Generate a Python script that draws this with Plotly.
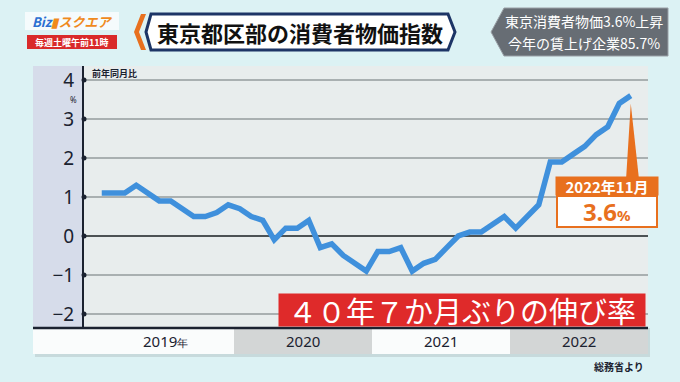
import plotly.graph_objects as go

# ---------------- data ----------------
years = [2019, 2020, 2021, 2022]
year_labels = ["2019<span style='font-size:11px'>年</span>", "2020", "2021", "2022"]
cpi_2019 = [1.1, 1.1, 1.1, 1.3, 1.1, 0.9, 0.9, 0.7, 0.5, 0.5, 0.6, 0.8]
cpi_2020 = [0.7, 0.5, 0.4, -0.1, 0.2, 0.2, 0.4, -0.3, -0.2, -0.5, -0.7, -0.9]
cpi_2021 = [-0.4, -0.4, -0.3, -0.9, -0.7, -0.6, -0.3, 0.0, 0.1, 0.1, 0.3, 0.5]
cpi_2022 = [0.2, 0.5, 0.8, 1.9, 1.9, 2.1, 2.3, 2.6, 2.8, 3.4, 3.6]
y_ticks = [-2, -1, 0, 1, 2, 3, 4]
y_tick_text = ["−2", "−1", "0", "1", "2", "3", "4"]
callout_label = "2022年11月"
callout_value = "3.6"

values = cpi_2019 + cpi_2020 + cpi_2021 + cpi_2022
months = [i + 0.5 for i in range(len(values))]  # month centres, 0 = start of Jan 2019

# ---------------- layout geometry ----------------
W, H = 680, 382
L, R, T, B = 84, 648, 66, 328
X_RANGE = [-12 / 11.5, 48]
Y_RANGE = [-2.36, 4.36]


def px(p):
    return (p - L) / (R - L)


def py(q):
    return (B - q) / (B - T)


def mx(m):
    return (m - X_RANGE[0]) / (X_RANGE[1] - X_RANGE[0])


CJK = "Noto Sans CJK JP"
DARK = "#1b2230"
ORANGE = "#e8701e"

fig = go.Figure()
fig.add_trace(go.Scatter(
    x=months, y=values, mode="lines",
    line=dict(color="#3f90dc", width=5.5, shape="linear"),
    hoverinfo="skip", showlegend=False,
))
# tick dots on axis line
fig.add_trace(go.Scatter(
    x=[X_RANGE[0]] * len(y_ticks), y=y_ticks, mode="markers",
    marker=dict(color=DARK, size=5), cliponaxis=False,
    hoverinfo="skip", showlegend=False,
))

shapes = []
# left label panel
shapes.append(dict(type="rect", xref="paper", yref="paper", x0=px(33), x1=px(L), y0=py(B), y1=py(T),
                   fillcolor="#d6dcea", line=dict(width=0), layer="below"))
# year bands (with a faint shadow under them)
shapes.append(dict(type="rect", xref="paper", yref="paper", x0=px(35), x1=px(R + 2), y0=py(357), y1=py(B),
                   fillcolor="#b9c9cb", line=dict(width=0), layer="below", opacity=0.6))
band_cols = ["#fafcfc", "#d3d6d6", "#fafcfc", "#d3d6d6"]
for i, yv in enumerate(years):
    x0 = px(33) if i == 0 else mx(12 * i)
    x1 = mx(12 * (i + 1))
    shapes.append(dict(type="rect", xref="paper", yref="paper", x0=x0, x1=x1, y0=py(354), y1=py(B),
                       fillcolor=band_cols[i], line=dict(width=0), layer="below"))
# bottom black axis line
shapes.append(dict(type="line", xref="paper", yref="paper", x0=px(33), x1=px(R), y0=py(B), y1=py(B),
                   line=dict(color=DARK, width=2.5)))
# callout pointer triangle
last_m, last_v = months[-1], values[-1]
shapes.append(dict(type="path", xref="x", yref="y",
                   path=f"M {last_m:.3f},{last_v - 0.2:.3f} L {last_m - 0.4:.3f},1.5 L {last_m + 0.7:.3f},1.5 Z",
                   fillcolor=ORANGE, line=dict(width=0), layer="above"))
# header: title box
shapes.append(dict(type="path", xref="paper", yref="paper",
                   path=f"M {px(134)},{py(32)} L {px(141)},{py(14)} L {px(146)},{py(14)} L {px(139)},{py(32)} L {px(146)},{py(50)} L {px(141)},{py(50)} Z",
                   fillcolor=ORANGE, line=dict(width=0)))
shapes.append(dict(type="path", xref="paper", yref="paper",
                   path=f"M {px(146)},{py(32)} L {px(151)},{py(14)} L {px(448)},{py(14)} L {px(455)},{py(32)} L {px(448)},{py(50)} L {px(151)},{py(50)} Z",
                   fillcolor="white", line=dict(color="#1d3566", width=3)))
# header: right ticker box
shapes.append(dict(type="path", xref="paper", yref="paper",
                   path=f"M {px(491)},{py(32)} L {px(504)},{py(8)} L {px(668)},{py(8)} L {px(668)},{py(56)} L {px(504)},{py(56)} Z",
                   fillcolor="#676d74", line=dict(color="#9aa0a6", width=1)))
# logo boxes
shapes.append(dict(type="rect", xref="paper", yref="paper", x0=px(27), x1=px(117), y0=py(49), y1=py(35),
                   fillcolor="#d92a2a", line=dict(width=0)))
shapes.append(dict(type="rect", xref="paper", yref="paper", x0=px(25), x1=px(119), y0=py(30), y1=py(12),
                   fillcolor="#ffffff", line=dict(width=0), opacity=0.7))


def ann(x, y, text, font, **kw):
    d = dict(x=x, y=y, xref="paper", yref="paper", text=text, showarrow=False,
             xanchor="center", yanchor="middle", font=font)
    d.update(kw)
    annotations.append(d)


annotations = []
for i, lab in enumerate(year_labels):
    ann(mx(12 * i + 6), py(341), lab, dict(family="Noto Sans", size=15, color=DARK))
ann(px(90), py(73), "<b>前年同月比</b>", dict(family=CJK, size=9, color=DARK), xanchor="left")
ann(px(73), py(99.5), "%", dict(family="Noto Sans", size=8, color=DARK))
ann(px(646), py(366), "<b>総務省より</b>", dict(family=CJK, size=10, color=DARK), xanchor="right")
# callout boxes
ann(px(607), py(185.5), f"<b>{callout_label}</b>", dict(family=CJK, size=15, color="white"),
    bgcolor=ORANGE, width=102, height=18, borderpad=0)
ann(px(607), py(211), f"<b>{callout_value}<span style='font-size:15px'>%</span></b>",
    dict(family="Noto Sans", size=24, color=ORANGE),
    bgcolor="white", bordercolor=ORANGE, borderwidth=2, width=98, height=29, borderpad=0)
# red banner
ann(px(462), py(310), "４０年７か月ぶりの伸び率", dict(family=CJK, size=29, color="white"),
    bgcolor="#df2a2a", width=366, height=32, borderpad=0)
# header texts
ann(px(300), py(32), "<b>東京都区部の消費者物価指数</b>", dict(family=CJK, size=22, color="#111111"))
ann(px(584), py(21), "東京消費者物価3.6%上昇", dict(family=CJK, size=14, color="white"))
ann(px(584), py(43), "今年の賃上げ企業85.7%", dict(family=CJK, size=14, color="white"))
ann(px(72), py(21), "<b><i><span style='color:#2b6fd1'>Biz</span><span style='color:#f08a1c'>▮スクエア</span></i></b>",
    dict(family=CJK, size=13))
ann(px(72), py(42), "<b>毎週土曜午前11時</b>", dict(family=CJK, size=9, color="white"))

fig.update_layout(
    width=W, height=H,
    margin=dict(l=L, r=W - R, t=T, b=H - B, pad=0),
    paper_bgcolor="#dcf2f4",
    plot_bgcolor="#e8eded",
    showlegend=False,
    shapes=shapes,
    annotations=annotations,
    xaxis=dict(range=X_RANGE, showgrid=False, zeroline=False, showticklabels=False,
               ticks="", showline=False, fixedrange=True),
    yaxis=dict(range=Y_RANGE, tickvals=y_ticks, ticktext=y_tick_text,
               tickfont=dict(family="Noto Sans", size=19, color=DARK),
               ticks="", ticklabelstandoff=4,
               showgrid=True, gridcolor="#a9b0b1", gridwidth=1.5,
               zeroline=True, zerolinecolor="#4c5254", zerolinewidth=2,
               showline=True, linecolor=DARK, linewidth=2, fixedrange=True),
)

fig.write_html("out.html", config={"displayModeBar": False})
